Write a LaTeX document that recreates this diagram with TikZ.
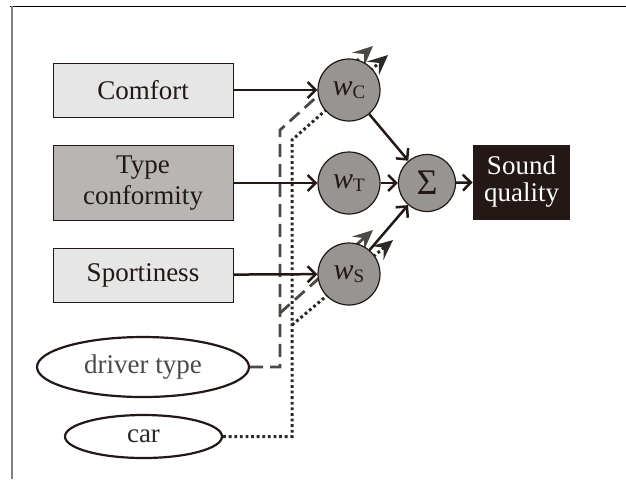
\documentclass[tikz,border=0pt]{standalone}
\usepackage{fontspec}
\setmainfont{Liberation Serif}
\newfontfamily\diagramfont{Liberation Serif}
\usepackage{xcolor}
\definecolor{InkBrown}{RGB}{35,24,21}
\definecolor{LightBox}{RGB}{230,230,230}
\definecolor{MidBox}{RGB}{184,182,181}
\definecolor{WeightGray}{RGB}{152,148,145}
\definecolor{CtxGray}{RGB}{75,72,70}
\definecolor{CtxDark}{RGB}{45,40,38}
\usepackage{tikz}
\usetikzlibrary{shapes, arrows.meta, positioning, backgrounds}

\newcommand{\weightlabel}[1]{{\fontsize{15}{15}\selectfont\itshape w}\raisebox{-1.5pt}{\fontsize{9.5}{10}\selectfont #1}}

\begin{document}
\begin{tikzpicture}[
        x=0.5pt, y=-0.5pt,
        font=\diagramfont\fontsize{13.5}{15.7}\selectfont,
        factor/.style={rectangle, draw=InkBrown, line width=0.5pt, fill=LightBox, text=InkBrown, minimum width=90pt, minimum height=27pt, align=center, inner sep=0pt},
        weight/.style={circle, draw=InkBrown, line width=0.6pt, fill=WeightGray, text=InkBrown, minimum size=31pt, inner sep=0pt},
        context/.style={ellipse, draw=InkBrown, line width=1.1pt, inner sep=0pt},
        link/.style={draw=InkBrown, line width=1.25pt, -{Straight Barb[length=4pt, width=8pt]}},
        drvline/.style={draw=CtxGray, line width=1.4pt, dash pattern=on 6.5pt off 3.5pt, -{Stealth[length=10pt, width=9pt, inset=4pt]}},
        carline/.style={draw=CtxDark, line width=1.5pt, dash pattern=on 1.4pt off 1.4pt, -{Stealth[length=10pt, width=9pt, inset=4pt]}}
    ]
        \useasboundingbox (0,0) rectangle (626,479);
        % page frame
        \draw[black, line width=0.5pt] (10,6) -- (626,6);
        \draw[gray, line width=0.6pt] (12,6) -- (12,479);

        % input factors
        \node[factor] (comfort) at (143,90) {Comfort};
        \node[factor, fill=MidBox, minimum height=37.5pt] (typeconf) at (143,183) {Type\\conformity};
        \node[factor] (sporty) at (143,275) {Sportiness};

        % weights and sum
        \node[weight] (wc) at (349,90) {\weightlabel{C}};
        \node[weight] (wt) at (349,183) {\weightlabel{T}};
        \node[weight] (ws) at (349,274) {\weightlabel{S}};
        \node[weight, minimum size=28.5pt, font=\diagramfont\fontsize{18}{18}\selectfont] (sum) at (427,183) {Σ};
        \node[rectangle, fill=InkBrown, text=white, minimum width=48.5pt, minimum height=37.5pt, align=center, inner sep=0pt, font=\diagramfont\fontsize{13.5}{13.5}\selectfont] (sound) at (521.5,182) {Sound\\quality};

        % context
        \node[context, minimum width=106pt, minimum height=30pt, text=CtxGray] (driver) at (143,367) {driver type};
        \node[context, minimum width=78.5pt, minimum height=21.5pt, text=CtxDark] (car) at (143.5,436.5) {car};

        \draw[link] (comfort) -- (wc);
        \draw[link] (typeconf) -- (wt);
        \draw[link] (sporty) -- (ws);
        \draw[link] (wc) -- (sum);
        \draw[link] (wt) -- (sum);
        \draw[link] (ws) -- (sum);
        \draw[link] (sum) -- (sound);

        \coordinate (dC) at (280,130);
        \coordinate (dS) at (280,313);
        \coordinate (cC) at (292,140);
        \coordinate (cS) at (292,325);
        \coordinate (dCtip) at (373,46);
        \coordinate (dStip) at (373,230);
        \coordinate (cCtip) at (388,55);
        \coordinate (cStip) at (393,240);

        \begin{pgfonlayer}{background}
            \draw[drvline] (driver.east) -| (dC) -- (dCtip);
            \draw[drvline] (dS) -- (dStip);
            \draw[carline] (car.east) -| (cC) -- (cCtip);
            \draw[carline] (cS) -- (cStip);
        \end{pgfonlayer}
    \end{tikzpicture}
\end{document}
